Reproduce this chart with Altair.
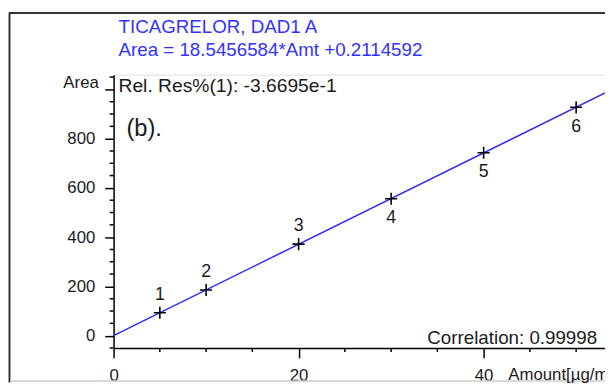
import altair as alt
import pandas as pd

# ---- data ----
amount = [5, 10, 20, 30, 40, 50]
area = [93.3, 185.3, 371.8, 556.2, 742.5, 927.2]
point_labels = ["1", "2", "3", "4", "5", "6"]
label_side = ["above", "above", "above", "below", "below", "below"]

x_major = [0, 20, 40]
x_minor = [5, 10, 15, 25, 30, 35, 45, 50]
y_major = [0, 200, 400, 600, 800, 1000]
y_minor = [-50, 50, 100, 150, 250, 300, 350, 450, 500, 550, 650, 700,
           750, 850, 900, 950, 1050]

title_1 = "TICAGRELOR, DAD1 A"
title_2 = "Area = 18.5456584*Amt +0.2114592"
rel_res = "Rel. Res%(1): -3.6695e-1"
panel_tag = "(b)."
corr_text = "Correlation: 0.99998"
y_title = "Area"
x_title = "Amount[µg/mL]"

X_DOMAIN = [0, 53.12]
Y_DOMAIN = [-50, 1060]
W, H = 498, 277
FONT = "Liberation Sans"
BLUE_TXT = "#3232ff"
LINE_BLUE = "#2a2aff"
DARK = "#1a1a1a"

pts = pd.DataFrame({"amt": amount, "area": area, "lab": point_labels, "side": label_side})

xscale = alt.Scale(domain=X_DOMAIN, nice=False, zero=False)
yscale = alt.Scale(domain=Y_DOMAIN, nice=False, zero=False)

xaxis = alt.Axis(values=x_major, tickSize=10, tickWidth=1.5, tickColor="black",
                 domainColor="black", domainWidth=1.5, grid=False, title=None,
                 labelFont=FONT, labelFontSize=17, labelColor=DARK,
                 labelBaseline="top", labelPadding=10, labelFlush=False,
                 labelOverlap=False)
yaxis = alt.Axis(values=y_major, tickSize=9, tickWidth=1.5, tickColor="black",
                 domainColor="black", domainWidth=1.5, grid=False, title=None,
                 labelFont=FONT, labelFontSize=17, labelColor=DARK,
                 labelPadding=10, labelFlush=False, labelOverlap=False,
                 labelExpr="datum.value == 1000 ? '' : datum.label")


def X(field="amt"):
    return alt.X(f"{field}:Q", scale=xscale, axis=xaxis)


def Y(field="area"):
    return alt.Y(f"{field}:Q", scale=yscale, axis=yaxis)


base = alt.Chart(pts)

fit_line = base.transform_regression("amt", "area", extent=X_DOMAIN).mark_line(
    color=LINE_BLUE, strokeWidth=1.5
).encode(x=X(), y=Y())

crosses = base.mark_point(
    shape="M-1,0H1M0,-1V1", size=150, filled=False, color="black", strokeWidth=1.6, opacity=1
).encode(x=X(), y=Y())

lab_above = base.transform_filter("datum.side == 'above'").mark_text(
    dy=-18, font=FONT, fontSize=18, color=DARK
).encode(x=X(), y=Y(), text="lab:N")

lab_below = base.transform_filter("datum.side == 'below'").mark_text(
    dy=20, font=FONT, fontSize=18, color=DARK
).encode(x=X(), y=Y(), text="lab:N")

xminor = alt.Chart(pd.DataFrame({"amt": x_minor})).mark_rule(
    color="black", strokeWidth=1.5
).encode(x=X(), y=alt.value(H), y2=alt.value(H + 4))

yminor = alt.Chart(pd.DataFrame({"area": y_minor})).mark_rule(
    color="black", strokeWidth=1.5
).encode(y=Y(), x=alt.value(-4), x2=alt.value(0))


def ann(text, x, y, size, color, align="left", baseline="middle"):
    return alt.Chart(alt.Data(values=[{}])).mark_text(
        text=text, align=align, baseline=baseline, font=FONT,
        fontSize=size, color=color
    ).encode(x=alt.value(x), y=alt.value(y))


def frame_rule(x, x2, y, y2, color, width):
    return alt.Chart(alt.Data(values=[{}])).mark_rule(
        color=color, strokeWidth=width
    ).encode(x=alt.value(x), x2=alt.value(x2), y=alt.value(y), y2=alt.value(y2))


texts = [
    ann(title_1, 5, -48, 19, BLUE_TXT),
    ann(title_2, 5, -25, 19, BLUE_TXT),
    ann(rel_res, 5, 12, 19.5, DARK),
    ann(panel_tag, 13, 55, 24, DARK),
    ann(corr_text, 490, 267, 19, DARK, align="right"),
    ann(y_title, -15, 9, 17, DARK, align="right"),
    ann(x_title, 400, 304, 17, DARK),
]

frame = [
    frame_rule(-106, W, -62.5, -62.5, "#333333", 2),
    frame_rule(-105.5, -105.5, -63, 312, "#333333", 2),
    frame_rule(-105, W, 310.5, 310.5, "#cccccc", 1.5),
]

chart = alt.layer(
    *frame, fit_line, xminor, yminor, crosses, lab_above, lab_below, *texts
).properties(
    width=W, height=H,
    padding={"left": 107, "top": 65, "right": 0, "bottom": 35},
    autosize="none",
).configure_view(stroke=None).configure(background="white")

chart.save("out.html", embed_options={"renderer": "svg", "actions": False})
